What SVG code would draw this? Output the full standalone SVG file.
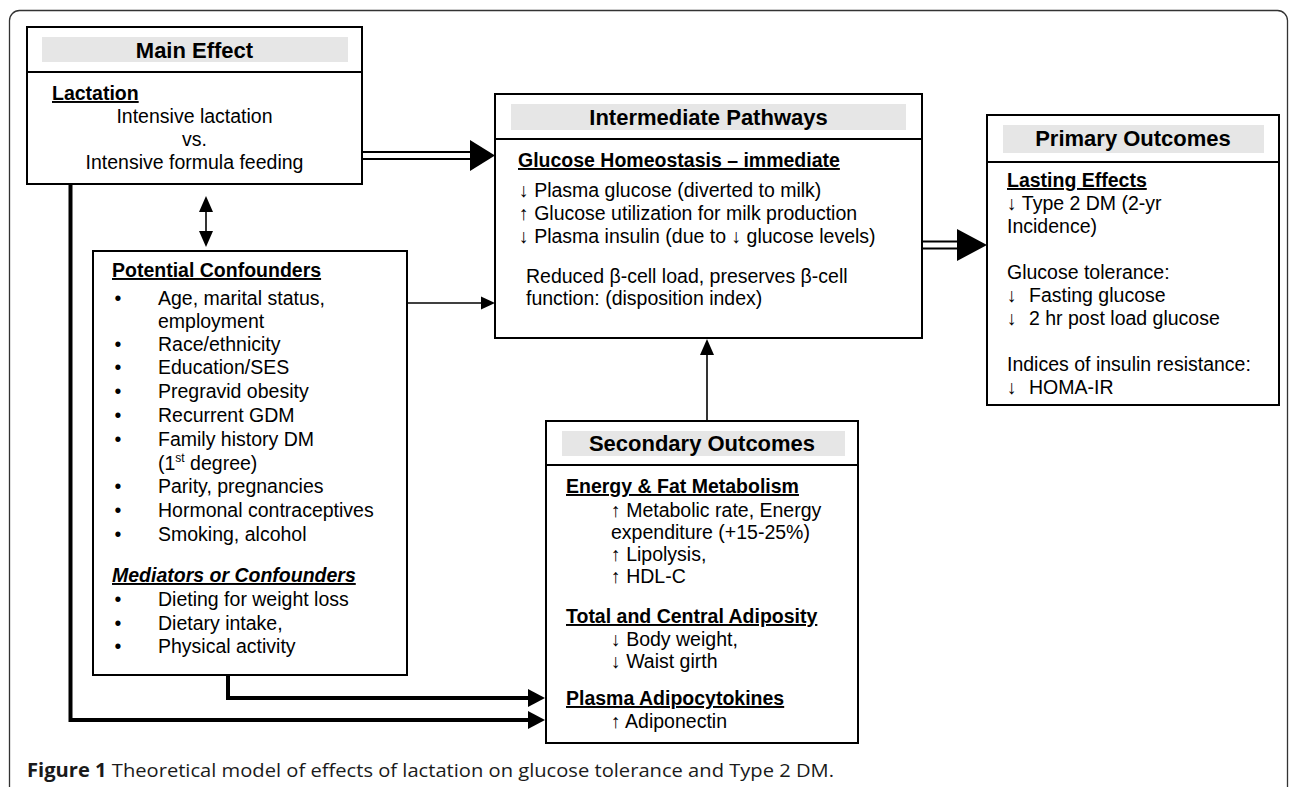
<svg xmlns="http://www.w3.org/2000/svg" width="1290" height="787" viewBox="0 0 1290 787">
<style>
.frame{fill:none;stroke:#333;stroke-width:1.3}
.box{fill:#fff;stroke:#000;stroke-width:2}
.div{stroke:#000;stroke-width:2}
.bar{fill:#e6e6e6}
.h{font-family:"Liberation Sans",Arial,sans-serif;font-weight:bold;font-size:22px;text-anchor:middle;fill:#000}
.t{font-family:"Liberation Sans",Arial,sans-serif;font-size:19.5px;fill:#000}
.s{font-family:"Liberation Sans",Arial,sans-serif;font-size:19.5px;font-weight:bold;text-decoration:underline;fill:#000}
.c{text-anchor:middle}
.ln{fill:none;stroke:#000;stroke-width:1.6}
.dl{fill:none;stroke:#000;stroke-width:2}
.tk{fill:none;stroke:#000;stroke-width:4;stroke-linejoin:miter}
.hd{fill:#000}
.cap{font-family:"Open Sans","Liberation Sans",sans-serif;font-size:19px;fill:#1a1a1a}
</style>
<rect class="frame" x="9.5" y="10.5" width="1278" height="800" rx="10"/>

<g id="main-effect">
<rect class="box" x="27" y="27" width="335" height="157"/>
<rect class="bar" x="42" y="37" width="306" height="25"/>
<line class="div" x1="27" y1="72" x2="362" y2="72"/>
<text class="h" x="194.5" y="58">Main Effect</text>
<text class="s" x="52" y="100">Lactation</text>
<text class="t c" x="194.5" y="123">Intensive lactation</text>
<text class="t c" x="194.5" y="146">vs.</text>
<text class="t c" x="194.5" y="169">Intensive formula feeding</text>
</g>

<g id="intermediate-pathways">
<rect class="box" x="495" y="94" width="427" height="244"/>
<rect class="bar" x="511" y="104" width="395" height="26"/>
<line class="div" x1="495" y1="139" x2="922" y2="139"/>
<text class="h" x="708.5" y="125">Intermediate Pathways</text>
<text class="s" x="518" y="167">Glucose Homeostasis – immediate</text>
<text class="t" x="519" y="197">↓ Plasma glucose (diverted to milk)</text>
<text class="t" x="519" y="220">↑ Glucose utilization for milk production</text>
<text class="t" x="519" y="243">↓ Plasma insulin (due to ↓ glucose levels)</text>
<text class="t" x="526" y="283">Reduced β-cell load, preserves β-cell</text>
<text class="t" x="526" y="305">function: (disposition index)</text>
</g>

<g id="primary-outcomes">
<rect class="box" x="987" y="115" width="292" height="290"/>
<rect class="bar" x="1003" y="125" width="261" height="28"/>
<line class="div" x1="987" y1="162" x2="1279" y2="162"/>
<text class="h" x="1133" y="146">Primary Outcomes</text>
<text class="s" x="1007" y="187">Lasting Effects</text>
<text class="t" x="1007" y="210">↓ Type 2 DM (2-yr</text>
<text class="t" x="1007" y="233">Incidence)</text>
<text class="t" x="1007" y="279">Glucose tolerance:</text>
<text class="t" x="1007" y="302">↓<tspan x="1029">Fasting glucose</tspan></text>
<text class="t" x="1007" y="325">↓<tspan x="1029">2 hr post load glucose</tspan></text>
<text class="t" x="1007" y="371">Indices of insulin resistance:</text>
<text class="t" x="1007" y="394">↓<tspan x="1029">HOMA-IR</tspan></text>
</g>

<g id="potential-confounders">
<rect class="box" x="93" y="251" width="314" height="424"/>
<text class="s" x="112" y="277">Potential Confounders</text>
<g class="t">
<text x="114.5" y="305">•</text><text x="158" y="305">Age, marital status,</text>
<text x="158" y="328">employment</text>
<text x="114.5" y="351">•</text><text x="158" y="351">Race/ethnicity</text>
<text x="114.5" y="374">•</text><text x="158" y="374">Education/SES</text>
<text x="114.5" y="398">•</text><text x="158" y="398">Pregravid obesity</text>
<text x="114.5" y="422">•</text><text x="158" y="422">Recurrent GDM</text>
<text x="114.5" y="446">•</text><text x="158" y="446">Family history DM</text>
<text x="158" y="470">(1<tspan font-size="12px" dy="-8">st</tspan><tspan dy="8"> degree)</tspan></text>
<text x="114.5" y="493">•</text><text x="158" y="493">Parity, pregnancies</text>
<text x="114.5" y="517">•</text><text x="158" y="517">Hormonal contraceptives</text>
<text x="114.5" y="541">•</text><text x="158" y="541">Smoking, alcohol</text>
</g>
<text class="s" x="112" y="582" font-style="italic">Mediators or Confounders</text>
<g class="t">
<text x="114.5" y="606">•</text><text x="158" y="606">Dieting for weight loss</text>
<text x="114.5" y="630">•</text><text x="158" y="630">Dietary intake,</text>
<text x="114.5" y="653">•</text><text x="158" y="653">Physical activity</text>
</g>
</g>

<g id="secondary-outcomes">
<rect class="box" x="546" y="421" width="312" height="322"/>
<rect class="bar" x="562" y="431" width="283" height="25"/>
<line class="div" x1="546" y1="465" x2="858" y2="465"/>
<text class="h" x="702" y="451">Secondary Outcomes</text>
<text class="s" x="566" y="493">Energy &amp; Fat Metabolism</text>
<text class="t" x="611" y="517">↑ Metabolic rate, Energy</text>
<text class="t" x="611" y="539">expenditure (+15-25%)</text>
<text class="t" x="611" y="561">↑ Lipolysis,</text>
<text class="t" x="611" y="583">↑ HDL-C</text>
<text class="s" x="566" y="623">Total and Central Adiposity</text>
<text class="t" x="611" y="646">↓ Body weight,</text>
<text class="t" x="611" y="668">↓ Waist girth</text>
<text class="s" x="566" y="705">Plasma Adipocytokines</text>
<text class="t" x="611" y="728">↑ Adiponectin</text>
</g>

<g id="connectors">
<line class="dl" x1="362" y1="152" x2="472" y2="152"/>
<line class="dl" x1="362" y1="159" x2="472" y2="159"/>
<polygon class="hd" points="470,140 495,155.5 470,171"/>
<line class="dl" x1="922" y1="241.5" x2="959" y2="241.5"/>
<line class="dl" x1="922" y1="248.5" x2="959" y2="248.5"/>
<polygon class="hd" points="957,229 987,245 957,261"/>
<line class="ln" x1="206" y1="205" x2="206" y2="238"/>
<polygon class="hd" points="206,196 199,212 213,212"/>
<polygon class="hd" points="206,247 199,231 213,231"/>
<line class="ln" x1="407" y1="303" x2="483" y2="303"/>
<polygon class="hd" points="481,296.5 495,303 481,309.5"/>
<line class="ln" x1="707" y1="421" x2="707" y2="352"/>
<polygon class="hd" points="707,339 700,355 714,355"/>
<path class="tk" d="M70.5,184 V720 H530"/>
<polygon class="hd" points="528,711 545,720 528,729"/>
<path class="tk" d="M228,675 V698 H530"/>
<polygon class="hd" points="528,689 545,698 528,707"/>
</g>

<text class="cap" x="27" y="777" textLength="807" lengthAdjust="spacingAndGlyphs"><tspan font-weight="bold">Figure 1</tspan> Theoretical model of effects of lactation on glucose tolerance and Type 2 DM.</text>
</svg>
